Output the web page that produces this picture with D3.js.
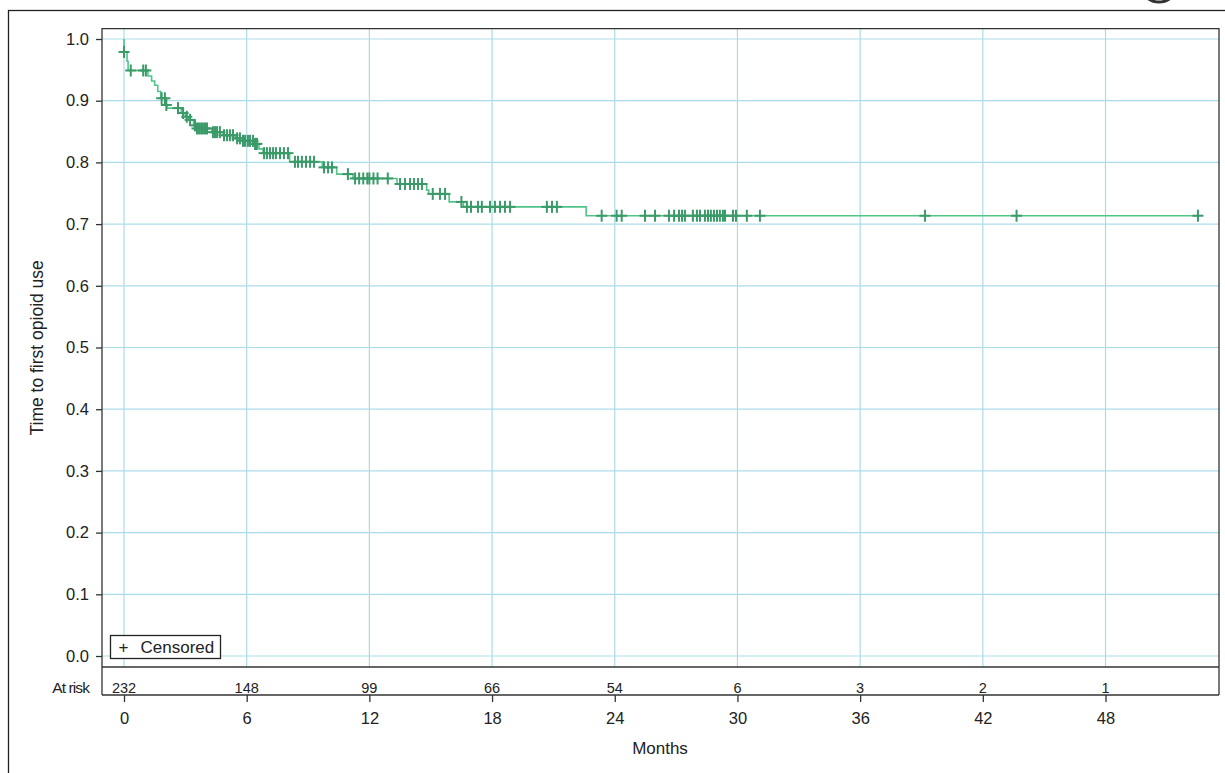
<!DOCTYPE html>
<html>
<head>
<meta charset="utf-8">
<script src="https://cdn.jsdelivr.net/npm/d3@7"></script>
<style>
  body { margin: 0; background: #fff; }
  svg { display: block; font-family: "Liberation Sans", Arial, sans-serif; }
</style>
</head>
<body>
<svg id="chart"></svg>
<script>
// Kaplan-Meier steps: time (months) where the curve drops, and survival after the drop
const eventTimes = [0, 0.15, 0.2, 1.17, 1.35, 1.5, 1.65, 1.8, 2.05, 2.1, 2.8, 3.0, 3.15, 3.4, 3.5,
  4.3, 4.85, 5.45, 5.8, 6.4, 6.6, 6.8, 8.1, 9.7, 10.4, 11.2, 13.35, 14.8, 14.9, 15.9, 16.6, 22.6];
const survival = [0.979, 0.964, 0.949, 0.94, 0.932, 0.925, 0.915, 0.904, 0.893, 0.888, 0.88, 0.874,
  0.869, 0.86, 0.855, 0.849, 0.844, 0.839, 0.835, 0.83, 0.822, 0.815, 0.801, 0.792, 0.781, 0.774,
  0.765, 0.755, 0.749, 0.736, 0.728, 0.7136];
const lastTime = 52.55;

// censored observations (months)
const censorTimes = [0.0, 0.33, 0.94, 1.07, 1.84, 2.0, 2.07, 2.64, 2.89, 3.07, 3.23,
  3.47, 3.57, 3.67, 3.77, 3.86, 3.96, 4.06, 4.35, 4.45, 4.55, 4.69, 4.89, 5.04, 5.18, 5.33,
  5.53, 5.67, 5.82, 5.92, 6.06, 6.16, 6.31, 6.41, 6.45, 6.5, 6.85, 6.99, 7.14, 7.29, 7.43,
  7.63, 7.82, 8.02, 8.36, 8.51, 8.7, 8.9, 9.1, 9.29, 9.78, 9.98, 10.17, 10.95, 11.3, 11.5,
  11.7, 11.9, 12.0, 12.2, 12.4, 12.9, 13.5, 13.74, 13.99, 14.18, 14.38, 14.57, 15.1, 15.45,
  15.7, 16.5, 16.77, 16.97, 17.31, 17.5, 17.9, 18.14, 18.39, 18.63, 18.88, 20.68, 20.93,
  21.17, 23.36, 24.09, 24.34, 25.48, 25.97, 26.65, 26.9, 27.14, 27.29, 27.43, 27.82, 28.02,
  28.17, 28.41, 28.56, 28.7, 28.85, 29.0, 29.14, 29.29, 29.39, 29.78, 29.93, 30.46, 31.1,
  39.17, 43.65, 52.52];

const xTicks = [0, 6, 12, 18, 24, 30, 36, 42, 48];
const yTicks = [0, 0.1, 0.2, 0.3, 0.4, 0.5, 0.6, 0.7, 0.8, 0.9, 1.0];
const atRisk = [232, 148, 99, 66, 54, 6, 3, 2, 1];

const W = 1225, H = 773;
const plot = { left: 102, right: 1219, top: 28.7, bottom: 667, riskBottom: 695 };

const svg = d3.select("#chart").attr("width", W).attr("height", H);

const x = d3.scaleLinear().domain([-1.076, 53.55]).range([plot.left, plot.right]);
const y = d3.scaleLinear().domain([-0.0178, 1.0167]).range([plot.bottom, plot.top]);

// outer frame
svg.append("rect")
  .attr("x", 8.5).attr("y", 10.5)
  .attr("width", 1240).attr("height", 800)
  .attr("fill", "none").attr("stroke", "#222").attr("stroke-width", 1.3);

// partial logo circle cut by the top edge
svg.append("circle")
  .attr("cx", 1159).attr("cy", -17).attr("r", 19)
  .attr("fill", "none").attr("stroke", "#333").attr("stroke-width", 3);

// grid
svg.append("g").selectAll("line")
  .data(xTicks)
  .enter().append("line")
  .attr("x1", (d) => x(d)).attr("x2", (d) => x(d))
  .attr("y1", plot.top).attr("y2", plot.bottom)
  .attr("stroke", "#acdbe8").attr("stroke-width", 1.2);

svg.append("g").selectAll("line")
  .data(yTicks)
  .enter().append("line")
  .attr("x1", plot.left).attr("x2", plot.right)
  .attr("y1", (d) => y(d)).attr("y2", (d) => y(d))
  .attr("stroke", "#acdbe8").attr("stroke-width", 1.2);

// survival curve
const pts = [[0, 1.0]];
eventTimes.forEach((t, i) => pts.push([t, survival[i]]));
pts.push([lastTime, survival[survival.length - 1]]);

const line = d3.line()
  .x((d) => x(d[0]))
  .y((d) => y(d[1]))
  .curve(d3.curveStepAfter);

svg.append("path")
  .datum(pts)
  .attr("d", line)
  .attr("fill", "none")
  .attr("stroke", "#52c488")
  .attr("stroke-width", 1.6);

function survAt(t) {
  let s = 1.0;
  eventTimes.forEach((e, i) => { if (e <= t) s = survival[i]; });
  return s;
}

// censor marks
const marks = svg.append("g")
  .selectAll("g")
  .data(censorTimes)
  .enter().append("g")
  .attr("transform", (d) => `translate(${x(d)},${y(survAt(d))})`)
  .attr("stroke", "#3a9a68")
  .attr("stroke-width", 2);
marks.append("line").attr("x1", -5.5).attr("x2", 5.5).attr("y1", 0).attr("y2", 0);
marks.append("line").attr("x1", 0).attr("x2", 0).attr("y1", -6).attr("y2", 6);

// plot frame + at-risk box
svg.append("path")
  .attr("d", `M${plot.left},${plot.riskBottom}V${plot.top}H${plot.right}V${plot.riskBottom}`)
  .attr("fill", "none").attr("stroke", "#333").attr("stroke-width", 1.3);
svg.append("line")
  .attr("x1", plot.left).attr("x2", plot.right)
  .attr("y1", plot.bottom).attr("y2", plot.bottom)
  .attr("stroke", "#333").attr("stroke-width", 1.3);

// y axis
const yAxis = svg.append("g")
  .attr("transform", `translate(${plot.left},0)`)
  .call(d3.axisLeft(y).tickValues(yTicks).tickFormat(d3.format(".1f")).tickSize(6).tickPadding(7));
yAxis.select(".domain").remove();
yAxis.selectAll("line").attr("stroke", "#333").attr("stroke-width", 1.3);
yAxis.selectAll("text").attr("font-size", 16.5).attr("fill", "#222")
  .attr("font-family", "Liberation Sans, Arial, sans-serif");

// x axis (below the at-risk row)
const xAxis = svg.append("g")
  .attr("transform", `translate(0,${plot.riskBottom})`)
  .call(d3.axisBottom(x).tickValues(xTicks).tickSize(7).tickPadding(10));
xAxis.select(".domain").attr("stroke", "#333").attr("stroke-width", 1.3)
  .attr("d", `M${plot.left},0H${plot.right}`);
xAxis.selectAll("line").attr("stroke", "#333").attr("stroke-width", 1.3);
xAxis.selectAll("text").attr("font-size", 16.5).attr("fill", "#222")
  .attr("font-family", "Liberation Sans, Arial, sans-serif");

// at-risk numbers
svg.append("g").selectAll("text")
  .data(atRisk)
  .enter().append("text")
  .attr("x", (d, i) => x(xTicks[i]))
  .attr("y", 693)
  .attr("text-anchor", "middle")
  .attr("font-size", 14.5)
  .attr("fill", "#222")
  .text((d) => d);

svg.append("text")
  .attr("x", 89).attr("y", 693)
  .attr("text-anchor", "end")
  .attr("font-size", 15.5)
  .attr("letter-spacing", -0.9)
  .attr("fill", "#222")
  .text("At risk");

// axis titles
svg.append("text")
  .attr("x", 660).attr("y", 754)
  .attr("text-anchor", "middle")
  .attr("font-size", 17)
  .attr("fill", "#222")
  .text("Months");

svg.append("text")
  .attr("transform", `translate(43,${(plot.top + plot.bottom) / 2}) rotate(-90)`)
  .attr("text-anchor", "middle")
  .attr("font-size", 17.5)
  .attr("fill", "#222")
  .text("Time to first opioid use");

// legend
const legend = svg.append("g").attr("transform", "translate(110.5,635.5)");
legend.append("rect")
  .attr("width", 110).attr("height", 23)
  .attr("fill", "#fff").attr("stroke", "#222").attr("stroke-width", 1.3);
legend.append("text")
  .attr("x", 13).attr("y", 17)
  .attr("text-anchor", "middle")
  .attr("font-size", 17)
  .attr("fill", "#222")
  .text("+");
legend.append("text")
  .attr("x", 30).attr("y", 17.5)
  .attr("font-size", 17)
  .attr("fill", "#222")
  .text("Censored");
</script>
</body>
</html>
